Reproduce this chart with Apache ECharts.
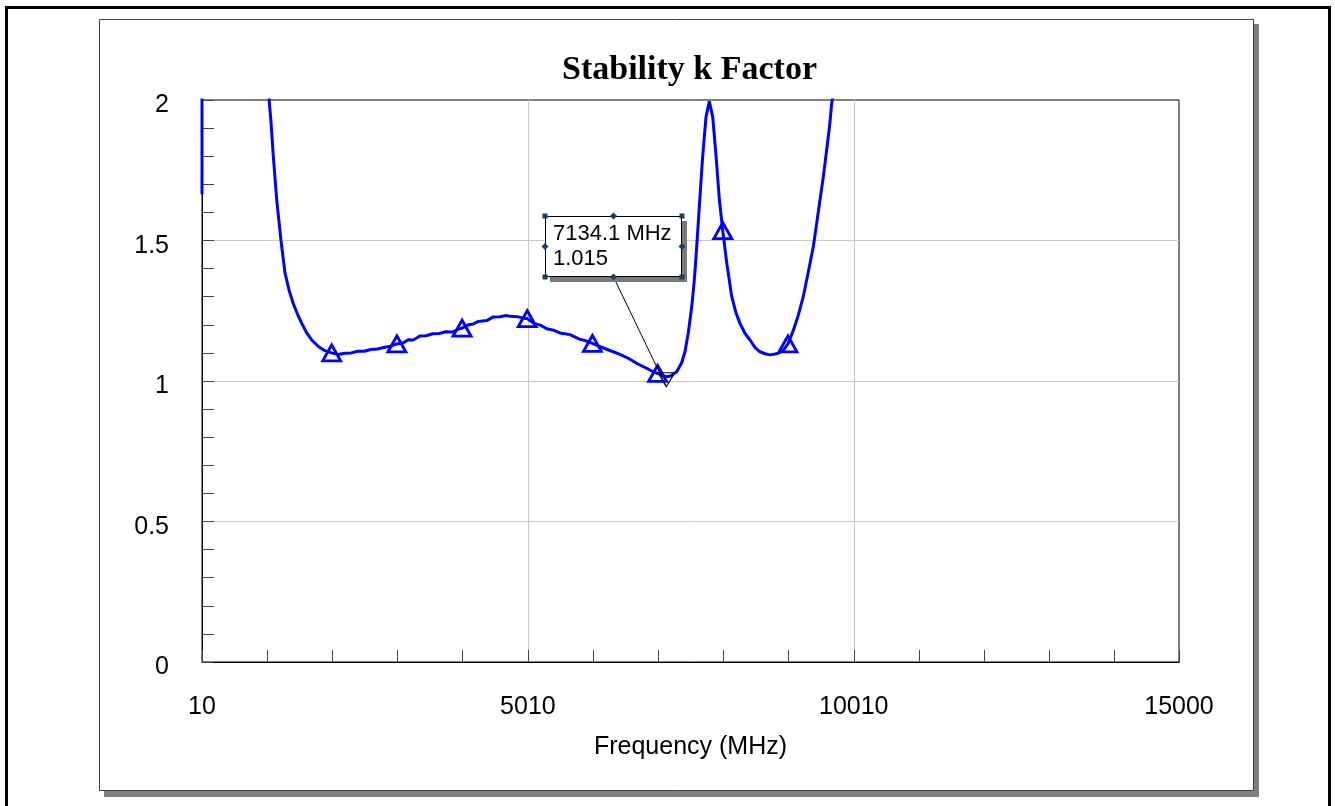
<!DOCTYPE html>
<html>
<head>
<meta charset="utf-8">
<script src="https://cdn.jsdelivr.net/npm/echarts@6/dist/echarts.min.js"></script>
<style>
html,body{margin:0;padding:0;background:#fff;}
#chart{width:1335px;height:806px;}
</style>
</head>
<body>
<div id="chart"></div>
<script>
// ---------------- data ----------------
const chartTitle = 'Stability k Factor';
const xAxisTitle = 'Frequency (MHz)';
const xTickLabels = ['10', '5010', '10010', '15000'];
const yTickLabels = ['0', '0.5', '1', '1.5', '2'];

const freqMHz = [
  10, 25, 100, 300, 600, 900, 1000, 1040, 1069, 1104, 1156, 1222, 1283, 1350, 1411, 1480, 1540, 1620, 1693, 1800, 1897,
  2000, 2100, 2200, 2300, 2400, 2500, 2600, 2700, 2800, 2900, 3000, 3100, 3175, 3250, 3355, 3450, 3550, 3650, 3750, 3850, 3950,
  4000, 4100, 4173, 4250, 4378, 4480, 4582, 4680, 4736, 4850, 4950, 5000, 5100, 5200, 5300, 5400, 5500, 5656, 5800, 5900,
  6000, 6100, 6219, 6320, 6423, 6550, 6679, 6800, 6935, 7000, 7080, 7134.1, 7200, 7293, 7370, 7421, 7470, 7524, 7560, 7590,
  7640, 7692, 7743, 7794, 7846, 7897, 7948, 8000, 8061, 8138, 8200, 8264, 8340, 8418, 8500, 8571, 8650, 8725, 8800, 8852,
  8930, 9000, 9082, 9160, 9235, 9310, 9389, 9440, 9492, 9545, 9594, 9640, 9671, 9700, 9800, 10000, 11000, 12000, 13000, 15000
];
const kFactor = [
  1.665, 30, 12, 5, 3, 2.3, 2.15, 2.0, 1.92, 1.80, 1.645, 1.50, 1.385, 1.32, 1.275, 1.235, 1.205, 1.17, 1.146, 1.122, 1.108,
  1.100, 1.094, 1.099, 1.100, 1.106, 1.106, 1.112, 1.114, 1.119, 1.124, 1.132, 1.136, 1.147, 1.146, 1.160, 1.161, 1.168, 1.169, 1.175, 1.174, 1.185,
  1.188, 1.200, 1.203, 1.212, 1.215, 1.228, 1.229, 1.233, 1.230, 1.229, 1.223, 1.222, 1.205, 1.199, 1.186, 1.181, 1.171, 1.165, 1.149, 1.143,
  1.134, 1.124, 1.113, 1.104, 1.095, 1.081, 1.063, 1.049, 1.033, 1.027, 1.020, 1.015, 1.018, 1.033, 1.065, 1.105, 1.17, 1.264, 1.35, 1.442,
  1.62, 1.80, 1.94, 1.995, 1.94, 1.80, 1.645, 1.535, 1.42, 1.30, 1.245, 1.205, 1.17, 1.146, 1.118, 1.104, 1.097, 1.093, 1.096, 1.099,
  1.11, 1.132, 1.18, 1.235, 1.30, 1.385, 1.478, 1.56, 1.645, 1.73, 1.822, 1.91, 1.988, 2.03, 2.3, 3.0, 8, 20, 40, 80
];

const markerFreqMHz = [2000, 3000, 4000, 5000, 6000, 7000, 8000, 9000];
const markerK = [1.100, 1.132, 1.188, 1.222, 1.134, 1.027, 1.535, 1.132];

const readoutFreqMHz = [7134.1];
const readoutK = [1.015];
const readoutText = ['7134.1 MHz', '1.015'];

// ---------------- chart ----------------
const chart = echarts.init(document.getElementById('chart'), null, {renderer: 'canvas'});

const curveData = freqMHz.map((f, i) => [f, kFactor[i]]);
const markerData = markerFreqMHz.map((f, i) => [f, markerK[i]]);
const readoutData = readoutFreqMHz.map((f, i) => [f, readoutK[i]]);

const FONT = '"Liberation Sans", Arial, sans-serif';
const xMin = 10, xMax = 15000;
const xSpan = xMax - xMin;

const frameGraphics = [
  {type: 'rect', id: 'outerFrame', z: -20, silent: true,
   shape: {x: 6.5, y: 7.5, width: 1323, height: 830},
   style: {fill: '#fff', stroke: '#000', lineWidth: 3}},
  {type: 'rect', id: 'panelShadow', z: -19, silent: true,
   shape: {x: 104, y: 24, width: 1155, height: 773},
   style: {fill: '#808080'}},
  {type: 'rect', id: 'panel', z: -18, silent: true,
   shape: {x: 99.5, y: 19.5, width: 1154, height: 771},
   style: {fill: '#fff', stroke: '#404040', lineWidth: 1}}
];

chart.setOption({
  animation: false,
  backgroundColor: '#fff',
  title: {
    text: chartTitle, left: 562, top: 53, padding: 0,
    textStyle: {fontFamily: '"Liberation Serif", "Times New Roman", serif', fontWeight: 'bold', fontSize: 34, color: '#000'}
  },
  grid: {left: 202, top: 100, right: 156, bottom: 144, show: true, borderColor: '#000', borderWidth: 1, backgroundColor: 'transparent', containLabel: false},
  xAxis: [
    { // display axis: ticks counted from 10 MHz
      type: 'value', min: 0, max: xSpan, interval: 5000, position: 'bottom',
      name: xAxisTitle, nameLocation: 'middle', nameGap: 73,
      nameTextStyle: {fontFamily: FONT, fontSize: 25, color: '#000'},
      axisLine: {show: true, onZero: false, lineStyle: {color: '#000', width: 1}},
      axisTick: {show: true, inside: true, length: 12, lineStyle: {color: '#444', width: 1}},
      minorTick: {show: true, splitNumber: 5, length: 12, lineStyle: {color: '#444', width: 1}},
      axisLabel: {show: true, margin: 33, showMinLabel: true, showMaxLabel: true,
        fontFamily: FONT, fontSize: 25, color: '#000',
        formatter: (v, idx) => xTickLabels[idx] !== undefined ? xTickLabels[idx] : ''},
      splitLine: {show: true, showMinLine: false, showMaxLine: false, lineStyle: {color: '#c8c8c8', width: 1}},
      minorSplitLine: {show: false}
    },
    { // data axis (hidden), same pixel extent
      type: 'value', min: xMin, max: xMax, show: false,
      splitLine: {show: false}
    }
  ],
  yAxis: {
    type: 'value', min: 0, max: 2, interval: 0.5,
    axisLine: {show: true, onZero: false, lineStyle: {color: '#000', width: 1}},
    axisTick: {show: true, inside: true, length: 12, lineStyle: {color: '#444', width: 1}},
    minorTick: {show: true, splitNumber: 5, length: 12, lineStyle: {color: '#444', width: 1}},
    axisLabel: {show: true, margin: 33, fontFamily: FONT, fontSize: 25, color: '#000',
      formatter: (v, idx) => yTickLabels[idx] !== undefined ? '{lab|' + yTickLabels[idx] + '}' : '',
      rich: {lab: {fontFamily: FONT, fontSize: 25, color: '#000', padding: [11, 0, 0, 0]}}},
    splitLine: {show: true, showMinLine: false, showMaxLine: false, lineStyle: {color: '#c8c8c8', width: 1}}
  },
  series: [
    {
      name: 'K', type: 'line', xAxisIndex: 1, yAxisIndex: 0,
      data: curveData, showSymbol: false, symbol: 'none', clip: true, smooth: false, z: 3,
      lineStyle: {color: '#0000ff', width: 3}, silent: true
    },
    {
      name: 'markers', type: 'scatter', xAxisIndex: 1, yAxisIndex: 0,
      data: markerData, symbol: 'triangle', symbolSize: [18, 16], clip: true, z: 4, silent: true,
      itemStyle: {color: 'rgba(255,255,255,0)', borderColor: '#0000ff', borderWidth: 2.8, opacity: 1}
    },
    {
      name: 'readout', type: 'scatter', xAxisIndex: 1, yAxisIndex: 0,
      data: readoutData, symbol: 'path://M0,0 L20,0 L10,16 Z', symbolSize: [17, 14], symbolOffset: [0, 3],
      symbolKeepAspect: false, z: 5, silent: true,
      itemStyle: {color: 'rgba(255,255,255,0)', borderColor: '#000', borderWidth: 1, opacity: 1}
    }
  ],
  graphic: frameGraphics
});

// ---------------- readout annotation box, anchored to the data point ----------------
const p = chart.convertToPixel({xAxisIndex: 1, yAxisIndex: 0}, readoutData[0]);
const px = p[0], py = p[1];
const bw = 137, bh = 61;
const bx = Math.round(px - 121), by = Math.round(py - 161);
const handleColor = '#1f3a68';
const sq = (id, cx, cy) => ({type: 'rect', id, z: 30, silent: true,
  shape: {x: cx - 2.5, y: cy - 2.5, width: 5, height: 5}, style: {fill: handleColor}});
const dm = (id, cx, cy) => ({type: 'polygon', id, z: 30, silent: true,
  shape: {points: [[cx, cy - 3.5], [cx + 3.5, cy], [cx, cy + 3.5], [cx - 3.5, cy]]}, style: {fill: handleColor}});

const annot = [
  {type: 'line', id: 'leader', z: 25, silent: true,
   shape: {x1: bx + bw / 2, y1: by + bh, x2: px, y2: py + 10},
   style: {stroke: '#000', lineWidth: 1}},
  {type: 'rect', id: 'boxShadow', z: 26, silent: true,
   shape: {x: bx + 5, y: by + 5, width: bw, height: bh}, style: {fill: '#7a7a7a'}},
  {type: 'rect', id: 'box', z: 27, silent: true,
   shape: {x: bx + 0.5, y: by + 0.5, width: bw - 1, height: bh - 1},
   style: {fill: '#fff', stroke: '#000', lineWidth: 1}},
  {type: 'text', id: 'readoutLine1', z: 28, silent: true, x: bx + 8, y: by + 7,
   style: {text: readoutText[0], fontFamily: FONT, fontSize: 22, fill: '#000', textAlign: 'left', textVerticalAlign: 'top'}},
  {type: 'text', id: 'readoutLine2', z: 28, silent: true, x: bx + 8, y: by + 32,
   style: {text: readoutText[1], fontFamily: FONT, fontSize: 22, fill: '#000', textAlign: 'left', textVerticalAlign: 'top'}},
  sq('h1', bx, by), sq('h2', bx + bw, by), sq('h3', bx, by + bh), sq('h4', bx + bw, by + bh),
  dm('h5', bx + bw / 2, by), dm('h6', bx, by + bh / 2), dm('h7', bx + bw, by + bh / 2), dm('h8', bx + bw / 2, by + bh)
];

chart.setOption({graphic: frameGraphics.concat(annot)});
</script>
</body>
</html>
